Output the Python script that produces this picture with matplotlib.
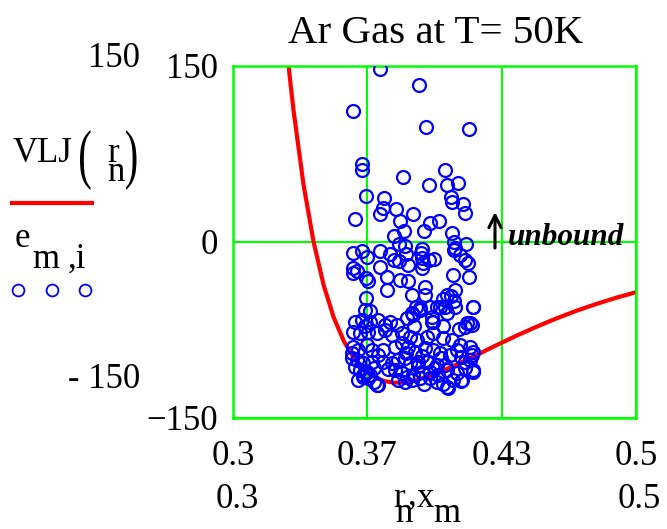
import matplotlib
matplotlib.use("Agg")
import matplotlib.pyplot as plt
import matplotlib.transforms as mtransforms
from matplotlib.lines import Line2D
from matplotlib.textpath import TextPath
from matplotlib.patches import PathPatch
from matplotlib.font_manager import FontProperties

plt.rcParams['font.family'] = ['Liberation Serif', 'DejaVu Serif']

W, H = 667, 529
GREEN = "#00ff00"
BLUE = "#0000ff"
RED = "#ff0000"

# VLJ(r_n): red trace (r in nm, energy in K)
r_n = [0.326, 0.328, 0.330, 0.335, 0.340, 0.345, 0.350, 0.355, 0.360,
       0.365, 0.370, 0.375, 0.380, 0.385, 0.390, 0.400, 0.410, 0.420,
       0.430, 0.440, 0.450, 0.460, 0.470, 0.480, 0.490, 0.500]
vlj = [177.3, 143.3, 112.6, 48.8, 0.0, -36.9, -64.4, -84.5, -98.9,
       -108.7, -115.0, -118.5, -119.9, -119.7, -118.2, -112.8, -105.3, -97.1,
       -88.6, -80.4, -72.7, -65.5, -58.9, -53.0, -47.6, -42.8]

# e_{m,i} vs x_m: blue circles
x_m = [
    # above -5
    0.3729, 0.3924, 0.3597, 0.3956, 0.4172, 0.3638, 0.3638, 0.3845, 0.4053,
    0.3974, 0.4061, 0.4115, 0.3658, 0.3747, 0.4081, 0.4088, 0.4142, 0.4152,
    0.3745, 0.3729, 0.3807, 0.3607, 0.3894, 0.3827, 0.3848, 0.3976, 0.4022,
    0.3946, 0.4085, 0.3797, 0.3822, 0.3852, 0.4098, 0.4103, 0.4154,
    # middle band
    0.3594, 0.3638, 0.3663, 0.3728, 0.3779, 0.3800, 0.3822, 0.3858, 0.3936,
    0.3931, 0.3937, 0.3998, 0.3974, 0.4096, 0.4126, 0.4152, 0.4164, 0.3597,
    0.3594, 0.3614, 0.3660, 0.3668, 0.3728, 0.3870, 0.3936, 0.3941, 0.3764,
    0.3828, 0.3867, 0.3762, 0.3954, 0.3954, 0.4093, 0.4172, 0.3888, 0.4060,
    0.4081, 0.4101, 0.4096, 0.4043, 0.3658, 0.3653, 0.3680, 0.3908, 0.3929,
    0.3888, 0.4010, 0.4053, 0.4192, 0.3986, 0.3994,
    # dense bottom cluster
    0.3605, 0.3638, 0.3680, 0.3721, 0.3779, 0.3812, 0.3862, 0.3895, 0.3928,
    0.3978, 0.4027, 0.4060, 0.4102, 0.4159, 0.4184, 0.4193,
    0.3597, 0.3630, 0.3672, 0.3713, 0.3754, 0.3787, 0.3837, 0.3878, 0.3911,
    0.3961, 0.3994, 0.4044, 0.4085, 0.4126, 0.4176,
    0.3597, 0.3622, 0.3663, 0.3688, 0.3746, 0.3804, 0.3837, 0.3870, 0.3903,
    0.3953, 0.3994, 0.4027, 0.4077, 0.4110, 0.4184, 0.4193,
    0.3589, 0.3614, 0.3647, 0.3688, 0.3746, 0.3787, 0.3820, 0.3853, 0.3878,
    0.3919, 0.3961, 0.4011, 0.4052, 0.4151, 0.4176,
    0.3605, 0.3630, 0.3655, 0.3680, 0.3721, 0.3804, 0.3837, 0.3862, 0.3895,
    0.3936, 0.3978, 0.4019, 0.4060, 0.4093, 0.4135, 0.4060, 0.4151, 0.4193,
    0.3647, 0.3672, 0.3820, 0.3853, 0.3886, 0.3928, 0.3978, 0.4011,
    0.3713, 0.4068, 0.4131, 0.4192, 0.3663, 0.3646, 0.3589, 0.4176, 0.4151,
    0.3655, 0.3755, 0.3900, 0.3990, 0.4040, 0.4120,
    0.3720, 0.3860, 0.3940, 0.4030, 0.4130,
    0.3700, 0.3770, 0.3920, 0.4000, 0.4110,
    0.3620, 0.3700, 0.3950, 0.4040,
]
e_mi = [
    147.5, 133.8, 111.9, 98.3, 96.3, 66.2, 61.4, 55.7, 61.4,
    48.6, 48.6, 50.0, 39.2, 37.2, 38.1, 34.3, 32.4, 25.0,
    28.7, 23.9, 28.1, 19.9, 23.6, 18.2, 9.6, 16.4, 17.9,
    9.6, 7.9, 5.1, -1.7, -3.2, 0.3, -5.4, -1.7,
    -9.1, -7.4, -12.5, -7.4, -10.5, -15.3, -16.2, -10.5, -6.2,
    -9.6, -13.9, -14.5, -15.3, -6.8, -11.1, -15.3, -18.2, -22.4,
    -26.7, -24.5, -30.9, -33.0, -21.6, -19.6, -22.4, -18.2, -29.6,
    -32.4, -33.2, -40.9, -38.1, -45.2, -28.1, -29.6, -45.2, -45.2,
    -46.0, -40.9, -50.0, -48.8, -47.5, -58.0, -58.6, -55.2, -56.5,
    -60.8, -55.2, -55.2, -55.7, -63.7, -67.9,
    -67.9, -66.5, -67.9, -66.5, -67.9, -70.7, -65.1, -62.2, -57.9,
    -55.1, -55.1, -60.8, -55.1, -69.3, -70.7, -55.1,
    -76.4, -77.9, -76.4, -77.9, -75.0, -79.3, -77.9, -80.7, -83.5,
    -80.7, -77.9, -82.1, -83.5, -87.8, -89.2,
    -89.2, -92.1, -87.8, -92.1, -92.1, -89.2, -86.4, -89.2, -93.5,
    -90.6, -92.1, -94.9, -96.3, -92.1, -96.3, -93.5,
    -99.2, -100.6, -103.4, -102.0, -102.0, -103.4, -100.6, -99.2, -103.4,
    -102.0, -102.0, -104.8, -104.8, -102.0, -100.6,
    -106.3, -109.1, -110.5, -113.4, -121.9, -109.1, -111.9, -114.8, -113.4,
    -110.5, -110.5, -113.4, -109.1, -117.6, -117.6, -123.3, -107.7, -109.1,
    -114.8, -116.2, -117.6, -119.0, -117.6, -116.2, -116.2, -119.0,
    -121.9, -124.2, -118.5, -110.5, -110.5, -113.4, -94.9, -69.3, -72.2,
    -72.0, -71.0, -72.0, -68.0, -72.0, -74.0,
    -96.0, -95.0, -97.0, -99.0, -98.0,
    -107.0, -108.0, -106.0, -107.0, -112.0,
    -118.0, -119.0, -121.0, -121.0,
]

x_ticks = [0.3, 0.3 + 0.2 / 3, 0.3 + 0.4 / 3, 0.5]
x_tick_labels = ["0.3", "0.37", "0.43", "0.5"]
y_ticks = [-150, 0, 150]
y_tick_labels = ["\u2212150", "0", "150"]

fig = plt.figure(figsize=(W / 100, H / 100), dpi=100)
ax = fig.add_axes([233 / W, 1 - 418 / H, (636 - 233) / W, (418 - 66) / H])
ax.set_xlim(0.3, 0.5)
ax.set_ylim(-150, 150)

ax.plot(r_n, vlj, color=RED, lw=3, zorder=2)
ax.plot(x_m, e_mi, ls="none", marker="o", ms=9.3, mfc="none",
        mec=BLUE, mew=1.6, zorder=3)

ax.set_xticks(x_ticks, x_tick_labels, fontsize=25)
ax.set_yticks(y_ticks, y_tick_labels, fontsize=25)
ax.tick_params(axis="both", length=0)
ax.tick_params(axis="x", pad=16)
ax.tick_params(axis="y", pad=11)
ax.grid(True, color=GREEN, lw=1.5, zorder=1)
ax.set_axisbelow(True)
for s in ax.spines.values():
    s.set_color(GREEN)
    s.set_linewidth(1.8)


def put(s, x, y, **kw):
    kw.setdefault("va", "baseline")
    fig.text(x / W, 1 - y / H, s, **kw)


def paren(ch, x, ytop, ybot, sx=1.2):
    # tall thin bracket like Mathcad's, stretched from a normal glyph
    tp = TextPath((0, 0), ch, size=34, prop=FontProperties(family="Liberation Serif"))
    ext = tp.get_extents()
    tr = (mtransforms.Affine2D()
          .translate(-ext.x0, -ext.y0)
          .scale(sx, (ybot - ytop) / ext.height)
          .translate(x, H - ybot))
    fig.add_artist(PathPatch(tp, transform=tr, facecolor="black", lw=0))


put("Ar Gas at T= 50K", 436, 43, fontsize=29.5, ha="center")

# axis limit fields
put("150", 140, 67, fontsize=25, ha="right")
put("- 150", 140, 388, fontsize=25, ha="right")
put("0.3", 237, 508, fontsize=25, ha="center")
put("0.5", 639, 508, fontsize=25, ha="center")

# x axis expression  r_n , x_m
put("r", 393, 507, fontsize=25)
put("n", 395, 522, fontsize=25)
put(",", 408, 505, fontsize=25)
put("x", 417, 507, fontsize=25)
put("m", 433, 522, fontsize=25)

# left legend: VLJ(r_n)
put("VLJ", 13, 162, fontsize=25)
paren("(", 80, 130, 190)
put("r", 107, 162, fontsize=25)
put("n", 107, 181, fontsize=25)
paren(")", 126, 130, 190)
fig.add_artist(Line2D([12 / W, 92 / W], [1 - 203 / H, 1 - 203 / H],
                      color=RED, lw=3))

# left legend: e_{m,i}
put("e", 15, 247, fontsize=25)
put("m", 32, 268, fontsize=25)
put(",i", 68, 268, fontsize=25)
fig.add_artist(Line2D([18 / W, 52 / W, 85 / W], [1 - 290 / H] * 3,
                      ls="none", marker="o", ms=8.5, mfc="none",
                      mec=BLUE, mew=1.3))

# annotation
ax.annotate("", xy=(495, H - 212), xytext=(495, H - 248),
            xycoords="figure pixels", textcoords="figure pixels",
            arrowprops=dict(arrowstyle="->", lw=2.2, color="black",
                            mutation_scale=22, shrinkA=0, shrinkB=0))
put("unbound", 508, 245, fontsize=22.5, fontweight="bold", style="italic")

fig.savefig("out.png", dpi=100)
